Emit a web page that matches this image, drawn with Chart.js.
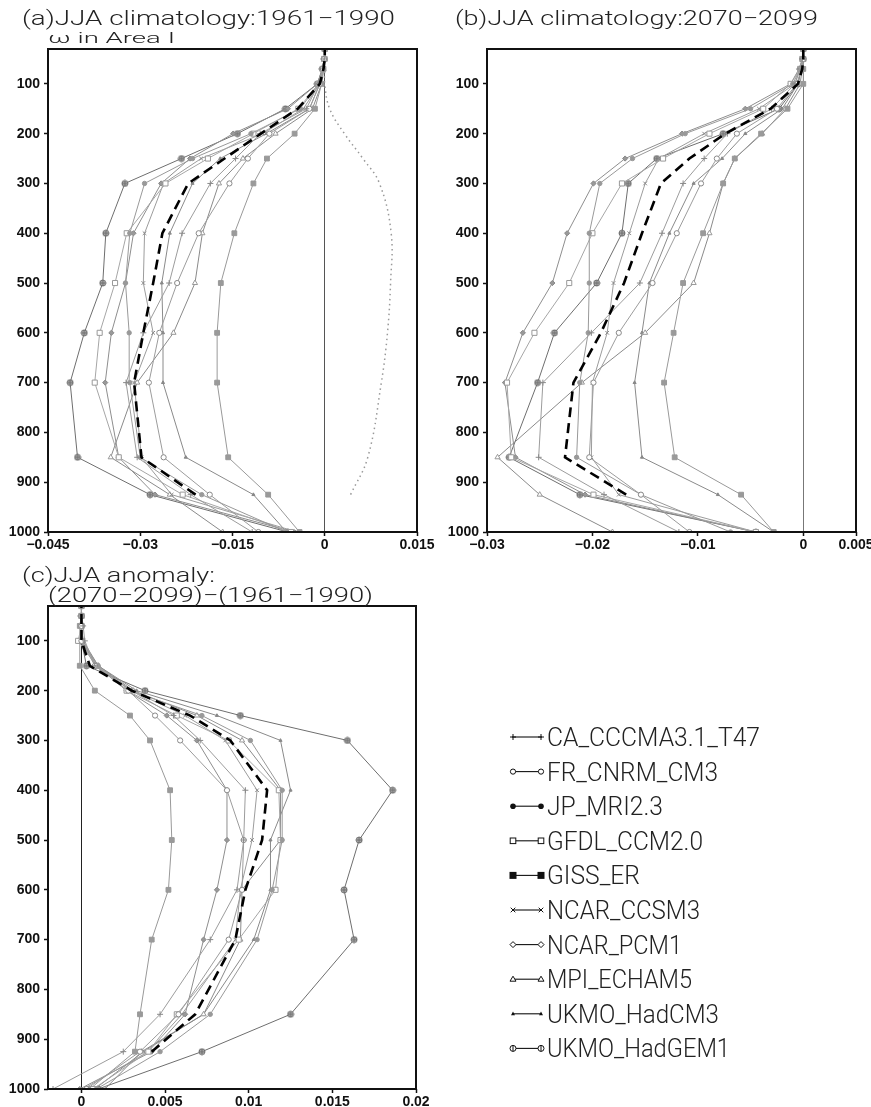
<!DOCTYPE html>
<html><head><meta charset="utf-8">
<script src="https://cdn.jsdelivr.net/npm/chart.js@4.4.0/dist/chart.umd.min.js"></script>
<style>
html,body{margin:0;padding:0;background:#fff;overflow:hidden;width:871px;height:1107px;position:relative;}
canvas{position:absolute;}
#ov{position:absolute;left:0;top:0;pointer-events:none;}
</style></head><body>
<canvas id="ca" width="440" height="520" style="left:0px;top:40px;width:440px;height:520px"></canvas>
<canvas id="cb" width="440" height="520" style="left:440px;top:40px;width:440px;height:520px"></canvas>
<canvas id="cc" width="440" height="511" style="left:0px;top:596px;width:440px;height:511px"></canvas>
<svg id="ov" width="871" height="1107" xmlns="http://www.w3.org/2000/svg"></svg>
<script>
// ---------------- DATA ----------------
const levels = [1000,925,850,700,600,500,400,300,250,200,150,100,70,50,30];
const models = ['CA_CCCMA3.1_T47','FR_CNRM_CM3','JP_MRI2.3','GFDL_CCM2.0','GISS_ER','NCAR_CCSM3','NCAR_PCM1','MPI_ECHAM5','UKMO_HadCM3','UKMO_HadGEM1'];
const yTicks = [100,200,300,400,500,600,700,800,900,1000];

// (a) JJA climatology 1961-1990
const a_CCCMA   = [-0.0118,-0.0218,-0.0305,-0.0323,-0.0295,-0.0253,-0.0232,-0.0186,-0.0145,-0.0105,-0.0030,-0.0010,-0.0003,-0.0001,0];
const a_CNRM    = [-0.0108,-0.0187,-0.0262,-0.0286,-0.0269,-0.0240,-0.0205,-0.0155,-0.0125,-0.0090,-0.0025,-0.0008,-0.0003,-0.0001,0];
const a_MRI     = [-0.0062,-0.0200,-0.0300,-0.0317,-0.0318,-0.0324,-0.0317,-0.0293,-0.0215,-0.0120,-0.0040,-0.0010,-0.0003,-0.0001,0];
const a_GFDL    = [-0.0055,-0.0231,-0.0335,-0.0374,-0.0366,-0.0341,-0.0322,-0.0259,-0.0190,-0.0116,-0.0043,-0.0010,-0.0003,-0.0001,0];
const a_GISS    = [-0.0041,-0.0092,-0.0157,-0.0175,-0.0175,-0.0169,-0.0147,-0.0116,-0.0094,-0.0049,-0.0016,-0.0005,-0.0002,0,0];
const a_CCSM3   = [-0.0045,-0.0249,-0.0298,-0.0310,-0.0279,-0.0295,-0.0293,-0.0262,-0.0201,-0.0101,-0.0035,-0.0008,-0.0003,-0.0001,0];
const a_PCM1    = [-0.0050,-0.0276,-0.0335,-0.0357,-0.0347,-0.0324,-0.0311,-0.0266,-0.0219,-0.0149,-0.0060,-0.0012,-0.0004,-0.0001,0];
const a_MPI     = [-0.0166,-0.0252,-0.0348,-0.0305,-0.0246,-0.0211,-0.0199,-0.0172,-0.0133,-0.0080,-0.0020,-0.0005,-0.0002,0,0];
const a_HadCM3  = [-0.0062,-0.0116,-0.0226,-0.0263,-0.0263,-0.0265,-0.0252,-0.0215,-0.0170,-0.0095,-0.0025,-0.0008,-0.0003,-0.0001,0];
const a_HadGEM1 = [-0.0060,-0.0284,-0.0402,-0.0414,-0.0391,-0.0361,-0.0356,-0.0325,-0.0233,-0.0142,-0.0064,-0.0012,-0.0004,-0.0001,0];
const a_mean    = [null,-0.0210,-0.0298,-0.0310,-0.0295,-0.0279,-0.0264,-0.0222,-0.0163,-0.0104,-0.0044,-0.0008,-0.0002,0,0];
const a_obs     = [null,0.0042,0.0070,0.0092,0.0102,0.0107,0.0108,0.0089,0.0062,0.0032,0.0008,0,0,0,0];
const a_xTicks  = [-0.045,-0.03,-0.015,0,0.015];

// (b) JJA climatology 2070-2099
const b_CCCMA   = [-0.0118,-0.0189,-0.0251,-0.0247,-0.0201,-0.0155,-0.0134,-0.0114,-0.0094,-0.0072,-0.0030,-0.0008,-0.0003,-0.0001,0];
const b_CNRM    = [-0.0108,-0.0154,-0.0203,-0.0199,-0.0175,-0.0143,-0.0120,-0.0097,-0.0082,-0.0063,-0.0025,-0.0006,-0.0002,0,0];
const b_MRI     = [-0.0069,-0.0154,-0.0215,-0.0212,-0.0204,-0.0203,-0.0203,-0.0193,-0.0162,-0.0112,-0.0050,-0.0010,-0.0003,-0.0001,0];
const b_GFDL    = [-0.0045,-0.0199,-0.0277,-0.0281,-0.0255,-0.0222,-0.0200,-0.0172,-0.0133,-0.0089,-0.0038,-0.0012,-0.0003,-0.0001,0];
const b_GISS    = [-0.0028,-0.0059,-0.0122,-0.0132,-0.0123,-0.0114,-0.0095,-0.0076,-0.0065,-0.0040,-0.0015,0,0,0,0];
const b_CCSM3   = [-0.0045,-0.0175,-0.0201,-0.0200,-0.0186,-0.0180,-0.0165,-0.0150,-0.0137,-0.0094,-0.0042,-0.0008,-0.0003,-0.0001,0];
const b_PCM1    = [-0.0045,-0.0207,-0.0273,-0.0283,-0.0266,-0.0238,-0.0224,-0.0199,-0.0169,-0.0115,-0.0055,-0.0012,-0.0004,-0.0001,0];
const b_MPI     = [-0.0181,-0.0250,-0.0290,-0.0210,-0.0150,-0.0104,-0.0089,-0.0076,-0.0065,-0.0039,-0.0017,-0.0003,-0.0001,0,0];
const b_HadCM3  = [-0.0028,-0.0081,-0.0153,-0.0160,-0.0153,-0.0146,-0.0127,-0.0104,-0.0077,-0.0055,-0.0020,-0.0005,-0.0002,0,0];
const b_HadGEM1 = [-0.0045,-0.0212,-0.0279,-0.0252,-0.0236,-0.0196,-0.0172,-0.0166,-0.0139,-0.0076,-0.0023,-0.0005,-0.0002,0,0];
const b_mean    = [null,-0.0168,-0.0226,-0.0218,-0.0192,-0.0170,-0.0153,-0.0135,-0.0108,-0.0074,-0.0031,-0.0005,-0.0001,0,0];
const b_xTicks  = [-0.03,-0.02,-0.01,0,0.005];

// (c) JJA anomaly (2070-2099)-(1961-1990)
const c_CCCMA   = [-0.0017,0.0025,0.0047,0.0077,0.0093,0.0097,0.0098,0.0071,0.0055,0.0030,0.0008,0.0002,0.0001,0,0];
const c_CNRM    = [0.0003,0.0035,0.0058,0.0088,0.0096,0.0097,0.0087,0.0059,0.0044,0.0028,0.0008,0,0,0,0];
const c_MRI     = [0.0009,0.0047,0.0077,0.0105,0.0114,0.0120,0.0120,0.0101,0.0072,0.0029,0.0010,0,0,0,0];
const c_GFDL    = [0.0007,0.0040,0.0057,0.0094,0.0116,0.0119,0.0118,0.0088,0.0057,0.0027,0.0009,-0.0002,0,0,0];
const c_GISS    = [0.0005,0.0032,0.0035,0.0042,0.0052,0.0054,0.0053,0.0041,0.0029,0.0008,-0.0001,-0.0001,-0.0001,0,0];
const c_CCSM3   = [0.0001,0.0040,0.0060,0.0092,0.0095,0.0102,0.0105,0.0086,0.0062,0.0030,0.0009,0.0001,0,0,0];
const c_PCM1    = [-0.0001,0.0042,0.0062,0.0073,0.0081,0.0087,0.0087,0.0069,0.0051,0.0027,0.0009,0,0,0,0];
const c_MPI     = [0.0014,0.0036,0.0073,0.0095,0.0096,0.0119,0.0119,0.0096,0.0069,0.0031,0.0010,0,0,0,0];
const c_HadCM3  = [0.0008,0.0037,0.0073,0.0103,0.0113,0.0113,0.0125,0.0119,0.0081,0.0033,0.0010,0.0001,0,0,0];
const c_HadGEM1 = [0.0010,0.0072,0.0125,0.0163,0.0157,0.0166,0.0186,0.0159,0.0095,0.0038,0.0003,0,0,0,0];
const c_mean    = [null,0.0042,0.0068,0.0092,0.0098,0.0108,0.0111,0.0089,0.0065,0.0030,0.0005,0,0,0,0];
const c_xTicks  = [0,0.005,0.01,0.015,0.02];

// ---------------- STYLES ----------------
function oplusMarker(){
  const c=document.createElement('canvas'); c.width=8; c.height=8;
  const g=c.getContext('2d');
  g.fillStyle='#b0b0b0'; g.strokeStyle='#6a6a6a'; g.lineWidth=1;
  g.beginPath(); g.arc(4,4,3,0,2*Math.PI); g.fill(); g.stroke();
  g.beginPath(); g.moveTo(4,1); g.lineTo(4,7); g.moveTo(1,4); g.lineTo(7,4); g.stroke();
  return c;
}
const OPLUS = oplusMarker();
const styles = [
  {ps:'cross',    r:3,   stroke:'#888', fill:'#888', line:'#9c9c9c'},
  {ps:'circle',   r:2.6, stroke:'#888', fill:'#fff', line:'#9c9c9c'},
  {ps:'circle',   r:2.2, stroke:'#999', fill:'#999', line:'#999'},
  {ps:'rect',     r:3.6, stroke:'#999', fill:'#fff', line:'#a6a6a6'},
  {ps:'rect',     r:3.4, stroke:'#999', fill:'#9a9a9a', line:'#999'},
  {ps:'crossRot', r:2.6, stroke:'#888', fill:'#888', line:'#9c9c9c'},
  {ps:'rectRot',  r:2.6, stroke:'#888', fill:'#999', line:'#8e8e8e'},
  {ps:'triangle', r:3,   stroke:'#999', fill:'#fff', line:'#8a8a8a'},
  {ps:'triangle', r:1.8, stroke:'#888', fill:'#888', line:'#8a8a8a'},
  {ps:OPLUS,      r:4,   stroke:'#666', fill:'#999', line:'#6e6e6e'}
];

function toPts(vals){ return levels.map((p,i)=> vals[i]==null?null:{x:vals[i],y:p}).filter(Boolean); }
function modelDs(label, vals, st){
  return {label, data:toPts(vals), showLine:true, borderColor:st.line, borderWidth:1,
    pointStyle:st.ps, pointRadius:st.r, pointBackgroundColor:st.fill, pointBorderColor:st.stroke,
    pointBorderWidth:1, order:2};
}
function meanDs(vals){
  return {label:'mean', data:toPts(vals), showLine:true, borderColor:'#000', borderWidth:2.6,
    borderDash:[10,6], pointRadius:0, order:0};
}
function obsDs(vals){
  return {label:'obs', data:toPts(vals), showLine:true, borderColor:'#999', borderWidth:1.5,
    borderDash:[1.5,3.5], pointRadius:0, tension:0.4, order:1};
}
function fmt(v){ if(v===0) return '0'; return (v<0?'\u2212':'')+String(Math.abs(v)); }

const frame = { id:'frame', afterDatasetsDraw(chart){
  const {ctx, chartArea:a} = chart; ctx.save(); ctx.strokeStyle='#111'; ctx.lineWidth=2;
  ctx.strokeRect(a.left, a.top, a.right-a.left, a.bottom-a.top); ctx.restore(); } };

const tickFont = {family:'"Liberation Sans", Arial, sans-serif', weight:'bold', size:14};

function makeChart(id, datasets, xmin, xmax, xticks, pad, yW, xH, zeroColor){
  return new Chart(document.getElementById(id), {
    type:'scatter',
    data:{datasets},
    options:{
      responsive:false, animation:false, devicePixelRatio:1,
      layout:{padding:pad},
      plugins:{legend:{display:false}, tooltip:{enabled:false}},
      scales:{
        x:{type:'linear', min:xmin, max:xmax,
           afterBuildTicks:s=>{ s.ticks = xticks.map(v=>({value:v})); },
           afterFit:s=>{ s.height = xH; s.paddingLeft = 0; s.paddingRight = 0; },
           ticks:{callback:v=>fmt(v), font:tickFont, color:'#111', maxRotation:0, autoSkip:false, padding:1},
           grid:{color:c=> (c.tick && c.tick.value===0) ? zeroColor : 'rgba(0,0,0,0)', lineWidth:1,
                 drawTicks:true, tickLength:4, tickColor:'#111', tickWidth:1.5},
           border:{display:false}},
        y:{type:'linear', reverse:true, min:30, max:1000,
           afterBuildTicks:s=>{ s.ticks = yTicks.map(v=>({value:v})); },
           afterFit:s=>{ s.width = yW; s.paddingTop = 0; s.paddingBottom = 0; },
           ticks:{callback:v=>String(v), font:tickFont, color:'#111', padding:4, autoSkip:false},
           grid:{display:true, drawOnChartArea:false, color:'rgba(0,0,0,0)', drawTicks:true,
                 tickLength:4, tickColor:'#111', tickWidth:1.5},
           border:{display:false}}
      }
    },
    plugins:[frame]
  });
}

function panelSets(arrs, mean, obs){
  const ds = [meanDs(mean)];
  if(obs) ds.push(obsDs(obs));
  arrs.forEach((a,i)=> ds.push(modelDs(models[i], a, styles[i])));
  return ds;
}

makeChart('ca', panelSets([a_CCCMA,a_CNRM,a_MRI,a_GFDL,a_GISS,a_CCSM3,a_PCM1,a_MPI,a_HadCM3,a_HadGEM1], a_mean, a_obs),
  -0.045, 0.015, a_xTicks, {left:0,right:23,top:9,bottom:0}, 48, 28, '#555');
makeChart('cb', panelSets([b_CCCMA,b_CNRM,b_MRI,b_GFDL,b_GISS,b_CCSM3,b_PCM1,b_MPI,b_HadCM3,b_HadGEM1], b_mean, null),
  -0.03, 0.005, b_xTicks, {left:0,right:24,top:9,bottom:0}, 47, 28, '#777');
makeChart('cc', panelSets([c_CCCMA,c_CNRM,c_MRI,c_GFDL,c_GISS,c_CCSM3,c_PCM1,c_MPI,c_HadCM3,c_HadGEM1], c_mean, null),
  -0.002, 0.02, c_xTicks, {left:0,right:24,top:10,bottom:0}, 48, 18, '#222');

// ---------------- TEXT OVERLAY (titles + legend) ----------------
const NS='http://www.w3.org/2000/svg';
const svg=document.getElementById('ov');
function el(tag, attrs, txt){ const e=document.createElementNS(NS,tag); for(const k in attrs) e.setAttribute(k,attrs[k]); if(txt!=null) e.textContent=txt; svg.appendChild(e); return e; }
const TF = 'Roboto, "DejaVu Sans", sans-serif';
function txt(x,y,size,s,len){ el('text',{x,y,'font-family':TF,'font-weight':'300','font-size':size,fill:'#222',textLength:len,lengthAdjust:'spacingAndGlyphs'}, s); }
txt(22,25,20,'(a)JJA climatology:1961\u22121990',373);
txt(48,43,15,'\u03c9 in Area I',127);
txt(455,25,20,'(b)JJA climatology:2070\u22122099',363);
txt(22,582,20,'(c)JJA anomaly:',193);
txt(48,602,20,'(2070\u22122099)\u2212(1961\u22121990)',325);

const legendWidths = [213,171,116,156,93,153,135,145,172,183];
models.forEach((m,i)=>{
  const y = 737 + i*34.6;
  el('line',{x1:512,y1:y,x2:542,y2:y,stroke:'#111','stroke-width':1.1});
  [513,541].forEach(x=>{
    const k=i;
    if(k===0){ el('path',{d:`M${x-3},${y}H${x+3}M${x},${y-3}V${y+3}`,stroke:'#111','stroke-width':1}); }
    else if(k===1){ el('circle',{cx:x,cy:y,r:2.6,fill:'#fff',stroke:'#111','stroke-width':1}); }
    else if(k===2){ el('circle',{cx:x,cy:y,r:2.8,fill:'#111'}); }
    else if(k===3){ el('rect',{x:x-2.8,y:y-2.8,width:5.6,height:5.6,fill:'#fff',stroke:'#111','stroke-width':1}); }
    else if(k===4){ el('rect',{x:x-3.5,y:y-3.5,width:7,height:7,fill:'#111'}); }
    else if(k===5){ el('path',{d:`M${x-2.3},${y-2.3}L${x+2.3},${y+2.3}M${x-2.3},${y+2.3}L${x+2.3},${y-2.3}`,stroke:'#111','stroke-width':1}); }
    else if(k===6){ el('path',{d:`M${x},${y-3}L${x+3},${y}L${x},${y+3}L${x-3},${y}Z`,fill:'#fff',stroke:'#111','stroke-width':1}); }
    else if(k===7){ el('path',{d:`M${x},${y-3}L${x+3},${y+2}L${x-3},${y+2}Z`,fill:'#fff',stroke:'#111','stroke-width':1}); }
    else if(k===8){ el('path',{d:`M${x},${y-2.2}L${x+2},${y+1.4}L${x-2},${y+1.4}Z`,fill:'#111'}); }
    else { el('circle',{cx:x,cy:y,r:3,fill:'#fff',stroke:'#111','stroke-width':1}); el('line',{x1:x,y1:y-3,x2:x,y2:y+3,stroke:'#111','stroke-width':1}); }
  });
  el('text',{x:547,y:y+9,'font-family':TF,'font-weight':'300','font-size':25,fill:'#222',textLength:legendWidths[i],lengthAdjust:'spacingAndGlyphs'}, m);
});
</script>
</body></html>
